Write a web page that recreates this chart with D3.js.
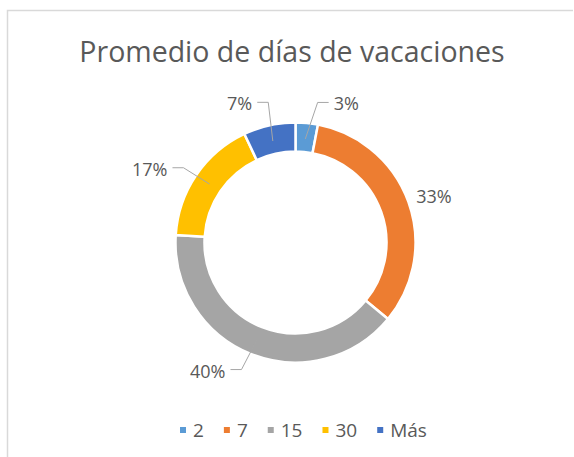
<!DOCTYPE html>
<html>
<head>
<meta charset="utf-8">
<script src="https://cdn.jsdelivr.net/npm/d3@7"></script>
<style>
    body { margin: 0; background: #fff; }
    text { font-family: "Open Sans", sans-serif; fill: #595959; }
</style>
</head>
<body>
<script>
(function(){

//chart data
var categories = ["2", "7", "15", "30", "Más"];
var shares = [3, 33, 40, 17, 7];
var colors = ["#5B9BD5", "#ED7D31", "#A5A5A5", "#FFC000", "#4472C4"];

//label nudges from the label-arc centroid, and which labels get a leader
var labelNudge = [[37, 7], [1, 4], [-34, -7], [-25, 9], [-24, 4]];
var hasLeader = [true, false, true, true, true];

function setChart(){
    var width = 574,
        height = 457,
        cx = 295.5,
        cy = 242.5,
        outerR = 120,
        innerR = 91;

    var svg = d3.select("body")
        .append("svg")
        .attr("width", width)
        .attr("height", height);

    //chart frame (top and left edges visible)
    svg.append("path")
        .attr("d", "M7.5," + height + "V10.5H573")
        .attr("fill", "none")
        .attr("stroke", "#D9D9D9")
        .attr("stroke-width", 1.5);

    //title
    svg.append("text")
        .attr("x", 292)
        .attr("y", 62)
        .attr("text-anchor", "middle")
        .style("font-size", "28.5px")
        .text("Promedio de días de vacaciones");

    var pie = d3.pie()
        .sort(null)
        .value(function(d){ return d; });

    var arc = d3.arc()
        .innerRadius(innerR)
        .outerRadius(outerR);

    var labelArc = d3.arc()
        .innerRadius(146)
        .outerRadius(146);

    var leaderArc = d3.arc()
        .innerRadius(104)
        .outerRadius(104);

    var slices = pie(shares);

    var g = svg.append("g")
        .attr("transform", "translate(" + cx + "," + cy + ")");

    //ring segments
    g.selectAll(".slice")
        .data(slices)
        .enter()
        .append("path")
        .attr("class", "slice")
        .attr("d", arc)
        .attr("fill", function(d, i){ return colors[i]; })
        .attr("stroke", "#fff")
        .attr("stroke-width", 2.5);

    //percent labels
    var labels = g.selectAll(".pct")
        .data(slices)
        .enter()
        .append("text")
        .attr("class", "pct")
        .attr("text-anchor", "middle")
        .attr("dy", "0.35em")
        .attr("x", function(d, i){ return labelArc.centroid(d)[0] + labelNudge[i][0]; })
        .attr("y", function(d, i){ return labelArc.centroid(d)[1] + labelNudge[i][1]; })
        .style("font-size", "18px")
        .text(function(d){ return d.data + "%"; });

    //leader lines: horizontal stub from label then to ring
    labels.each(function(d, i){
        if (!hasLeader[i]) return;
        var box = this.getBBox();
        var end = leaderArc.centroid(d);
        var ly = box.y + box.height / 2 - 1;
        var toRight = end[0] > box.x + box.width;
        var sx = toRight ? box.x + box.width + 5 : box.x - 5;
        var ex = toRight ? sx + 11 : sx - 11;
        g.append("path")
            .attr("d", "M" + sx + "," + ly + "H" + ex + "L" + end[0] + "," + end[1])
            .attr("fill", "none")
            .attr("stroke", "#A6A6A6")
            .attr("stroke-width", 1);
    });

    //legend
    var legend = svg.append("g")
        .attr("transform", "translate(0,430)");

    var lx = 180;
    categories.forEach(function(c, i){
        legend.append("rect")
            .attr("x", lx)
            .attr("y", -3)
            .attr("width", 6)
            .attr("height", 6)
            .attr("fill", colors[i]);
        var t = legend.append("text")
            .attr("x", lx + 13)
            .attr("dy", "0.35em")
            .style("font-size", "19px")
            .text(c);
        lx += 13 + t.node().getComputedTextLength() + 20;
    });
};

window.onload = setChart();
})();
</script>
</body>
</html>
